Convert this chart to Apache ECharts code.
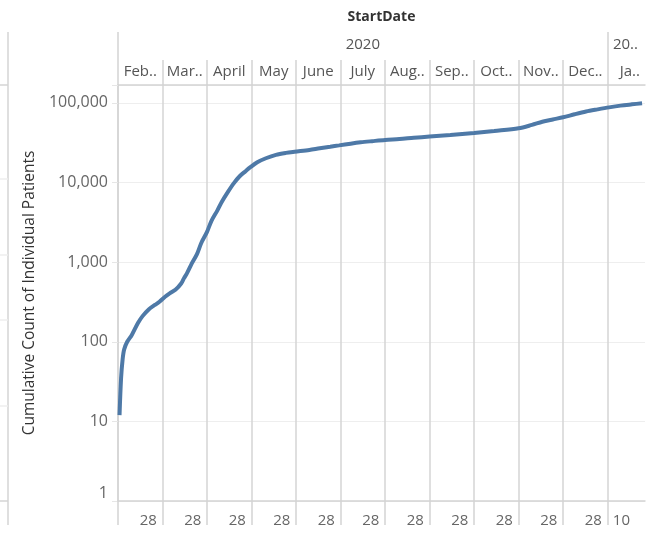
<!DOCTYPE html>
<html>
<head>
<meta charset="utf-8">
<title>StartDate</title>
<script src="https://cdn.jsdelivr.net/npm/echarts@6/dist/echarts.min.js"></script>
<style>
    html, body { margin: 0; padding: 0; background: #fff; }
    #chart { width: 654px; height: 535px; }
</style>
</head>
<body>
<div id="chart"></div>
<script>
    // header rows
    const monthNames = ['Feb..', 'Mar..', 'April', 'May', 'June', 'July', 'Aug..', 'Sep..', 'Oct..', 'Nov..', 'Dec..', 'Ja..'];
    const yearNames = ['2020', '20..'];
    const dayTickLabels = ['28', '28', '28', '28', '28', '28', '28', '28', '28', '28', '28', '10'];

    // cumulative count per start date
    const startDates = [
        '2020-02-02', '2020-02-03', '2020-02-04', '2020-02-05', '2020-02-07', '2020-02-10', '2020-02-14', '2020-02-17',
        '2020-02-21', '2020-02-25', '2020-02-28', '2020-03-03', '2020-03-06', '2020-03-10', '2020-03-14', '2020-03-16',
        '2020-03-18', '2020-03-21', '2020-03-25', '2020-03-28', '2020-04-01', '2020-04-04', '2020-04-08', '2020-04-11',
        '2020-04-15', '2020-04-19', '2020-04-23', '2020-04-27', '2020-04-30', '2020-05-05',
        '2020-05-11', '2020-05-18', '2020-05-25', '2020-05-31', '2020-06-10', '2020-06-17',
        '2020-06-24', '2020-06-30', '2020-07-08', '2020-07-15', '2020-07-23', '2020-08-01', '2020-08-11', '2020-08-21',
        '2020-09-01', '2020-09-15', '2020-10-01', '2020-10-15', '2020-11-01', '2020-11-10', '2020-11-17', '2020-11-24',
        '2020-12-01', '2020-12-09', '2020-12-17', '2020-12-25', '2021-01-02', '2021-01-10', '2021-01-18', '2021-01-25'
    ];
    const patientCounts = [
        12, 35, 60, 80, 100, 122, 172, 210,
        255, 290, 318, 370, 405, 450, 540, 630,
        724, 933, 1260, 1740, 2400, 3310, 4470, 5750,
        7590, 9770, 12000, 13900, 15500, 18000,
        20200, 22300, 23600, 24400, 25700, 27000,
        28200, 29300, 30800, 32000, 33100, 34300, 35200, 36500,
        37800, 39500, 42000, 44500, 48000, 53000, 58000, 62000,
        66000, 72000, 78000, 83000, 88000, 92500, 96000, 99000
    ];

    // every month pane has the same width, so a date is placed as month index + fraction of month
    function panePos(str) {
        let p = str.split('-').map(Number);
        let idx = (p[0] - 2020) * 12 + (p[1] - 2);
        let days = new Date(p[0], p[1], 0).getDate();
        return idx + (p[2] - 1) / days;
    }

    const xMax = 11.84;
    const paneEdges = monthNames.map((m, i) => i);
    const monthMid = monthNames.map((m, i) => i + 0.5);
    const dayLabelPos = dayTickLabels.map((t, i) => i < 11 ? i + 0.68 : i + 0.31);
    const yearEdges = [0, 11];
    const yearMid = [5.5, 11.4];

    const gridColor = '#d4d4d4';
    const font = 'Open Sans, sans-serif';

    function pick(list, pos, v) {
        for (let i = 0; i < pos.length; i++) {
            if (Math.abs(pos[i] - v) < 1e-6) return list[i];
        }
        return '';
    }

    // bits of the neighbouring sheet that show at the left edge
    function edgeLine(y, color) {
        return { type: 'line', shape: { x1: 0, y1: y, x2: 8, y2: y }, style: { stroke: color, lineWidth: 1.5 } };
    }

    let myChart = echarts.init(document.getElementById('chart'));
    let option = {
        animation: false,
        grid: { left: 118, right: 9, top: 85, bottom: 34 },
        xAxis: [
            {
                // bottom: day ticks
                type: 'value', position: 'bottom', min: 0, max: xMax,
                axisLine: { show: true, lineStyle: { color: gridColor, width: 1.5 } },
                axisTick: { show: true, customValues: paneEdges, length: 24, lineStyle: { color: gridColor, width: 1.5 } },
                splitLine: { show: true, lineStyle: { color: gridColor, width: 1.5 } },
                axisLabel: {
                    customValues: dayLabelPos, margin: 12, color: '#666', fontSize: 15, fontFamily: font,
                    formatter: v => pick(dayTickLabels, dayLabelPos, v)
                }
            },
            {
                // top: month header
                type: 'value', position: 'top', min: 0, max: xMax,
                axisLine: { show: true, lineStyle: { color: gridColor, width: 1.5 } },
                axisTick: { show: true, customValues: paneEdges, length: 25, lineStyle: { color: gridColor, width: 1.5 } },
                splitLine: { show: false },
                axisLabel: {
                    customValues: monthMid, margin: 6, color: '#555', fontSize: 15, fontFamily: font,
                    formatter: v => pick(monthNames, monthMid, v)
                }
            },
            {
                // top: year header + field name
                type: 'value', position: 'top', offset: 25, min: 0, max: xMax,
                name: 'StartDate', nameLocation: 'middle', nameGap: 36,
                nameTextStyle: { color: '#333', fontSize: 14, fontWeight: 'bold', fontFamily: font },
                axisLine: { show: false },
                axisTick: { show: true, customValues: yearEdges, length: 28, lineStyle: { color: gridColor, width: 1.5 } },
                splitLine: { show: false },
                axisLabel: {
                    customValues: yearMid, margin: 8, color: '#555', fontSize: 15, fontFamily: font,
                    formatter: v => pick(yearNames, yearMid, v)
                }
            }
        ],
        yAxis: {
            type: 'log', logBase: 10, min: 1, max: 168000,
            name: 'Cumulative Count of Individual Patients', nameLocation: 'middle', nameGap: 80,
            nameTextStyle: { color: '#333', fontSize: 15.5, fontFamily: font },
            axisLine: { show: true, lineStyle: { color: gridColor, width: 1.5 } },
            axisTick: { show: true, length: 6, lineStyle: { color: '#e6e6e6' } },
            splitLine: { show: true, lineStyle: { color: '#eeeeee', width: 1 } },
            axisLabel: {
                margin: 10, color: '#666', fontSize: 16, fontFamily: font,
                verticalAlignMinLabel: 'bottom',
                formatter: function (v) {
                    let e = Math.log10(v);
                    if (Math.abs(e - Math.round(e)) > 1e-6) return '';
                    return Math.round(v).toLocaleString('en-US');
                }
            }
        },
        graphic: [
            { type: 'line', shape: { x1: 8, y1: 32, x2: 8, y2: 525 }, style: { stroke: gridColor, lineWidth: 1.5 } },
            edgeLine(85, gridColor),
            edgeLine(179, '#eeeeee'),
            edgeLine(255, '#eeeeee'),
            edgeLine(320, '#eeeeee'),
            edgeLine(406, '#eeeeee'),
            edgeLine(501, gridColor)
        ],
        series: [
            {
                type: 'line',
                xAxisIndex: 0,
                data: startDates.map((d, i) => [panePos(d), patientCounts[i]]),
                showSymbol: false,
                smooth: 0.3,
                lineStyle: { color: '#4e79a7', width: 4 }
            }
        ]
    };
    myChart.setOption(option);
</script>
</body>
</html>
